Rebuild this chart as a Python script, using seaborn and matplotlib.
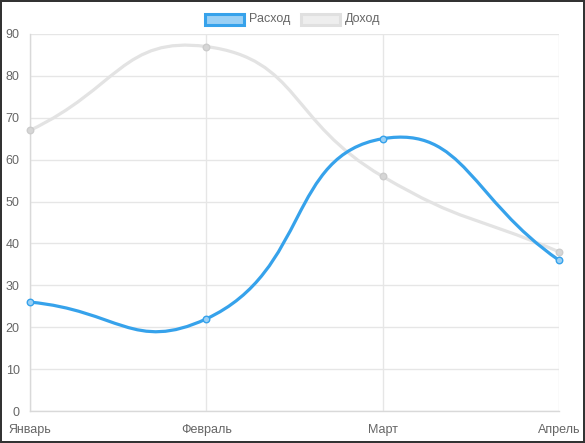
import numpy as np
import matplotlib
matplotlib.use("Agg")
import matplotlib.pyplot as plt
from matplotlib.path import Path
from matplotlib.patches import PathPatch, Rectangle
import seaborn as sns

# Данные графика
months = ["Январь", "Февраль", "Март", "Апрель"]
expense = [26, 22, 65, 36]   # Расход
income = [67, 87, 56, 38]    # Доход
y_ticks = [0, 10, 20, 30, 40, 50, 60, 70, 80, 90]

sns.set_style("white")
plt.rcParams['font.family'] = ['Liberation Sans', 'DejaVu Sans']

W, H = 585, 443
fig = plt.figure(figsize=(W / 100, H / 100), dpi=100)
fig.patch.set_edgecolor("#333333")
fig.patch.set_linewidth(1.5)

# область графика в пикселях
left, right, top, bottom = 30, 559, 34, 411
ax = fig.add_axes([left / W, (H - bottom) / H, (right - left) / W, (bottom - top) / H])
ax.set_xlim(0, len(months) - 1)
ax.set_ylim(0, 90)

grid_c = "#e6e6e6"
ax.set_xticks(range(len(months)))
ax.set_xticklabels(months)
ax.set_yticks(y_ticks)
ax.grid(True, color=grid_c, linewidth=1)
ax.tick_params(axis="both", colors=grid_c, labelcolor="#666666", labelsize=9,
               length=6, width=1)
ax.tick_params(axis="y", pad=1.5)
ax.tick_params(axis="x", pad=3)
for s in ["top", "right"]:
    ax.spines[s].set_visible(False)
for s in ["left", "bottom"]:
    ax.spines[s].set_color("#d9d9d9")
    ax.spines[s].set_linewidth(1)


def bezier_path(xs, ys, tension=0.5):
    # контрольные точки как в Chart.js (в пикселях)
    pts = ax.transData.transform(np.column_stack([xs, ys]))
    n = len(pts)
    cps = []
    for i in range(n):
        prev = pts[i - 1] if i > 0 else pts[i]
        cur = pts[i]
        nxt = pts[i + 1] if i < n - 1 else pts[i]
        d01 = np.hypot(*(cur - prev))
        d12 = np.hypot(*(nxt - cur))
        tot = d01 + d12
        s01 = d01 / tot if tot else 0
        s12 = d12 / tot if tot else 0
        fa, fb = tension * s01, tension * s12
        cps.append((cur - fa * (nxt - prev), cur + fb * (nxt - prev)))
    verts = [pts[0]]
    codes = [Path.MOVETO]
    for i in range(n - 1):
        verts += [cps[i][1], cps[i + 1][0], pts[i + 1]]
        codes += [Path.CURVE4] * 3
    inv = ax.transData.inverted()
    return Path(inv.transform(np.array(verts)), codes)


blue = "#36a2eb"
grey_line = "#e3e3e3"

# Доход (снизу)
ax.add_patch(PathPatch(bezier_path(range(4), income), fill=False,
                       edgecolor=grey_line, linewidth=2.3, zorder=3, capstyle="round"))
sns.scatterplot(x=list(range(4)), y=income, ax=ax, s=22, color="#d6d6d6",
                edgecolor="#cccccc", linewidth=1, zorder=4, clip_on=False)

# Расход (сверху)
ax.add_patch(PathPatch(bezier_path(range(4), expense), fill=False,
                       edgecolor=blue, linewidth=2.3, zorder=5, capstyle="round"))
sns.scatterplot(x=list(range(4)), y=expense, ax=ax, s=22, color="#9ad0f5",
                edgecolor=blue, linewidth=1, zorder=6, clip_on=False)

# легенда
def px_rect(x, y, w, h, fc, ec):
    fig.patches.append(Rectangle((x / W, 1 - (y + h) / H), w / W, h / H,
                                 transform=fig.transFigure, facecolor=fc,
                                 edgecolor=ec, linewidth=2.2))

px_rect(204.5, 13.5, 39, 11, "#9ad0f5", blue)
fig.text(249 / W, 1 - 19 / H, "Расход", fontsize=9, color="#666666", va="center")
px_rect(300.5, 13.5, 39, 11, "#eeeeee", "#e0e0e0")
fig.text(345 / W, 1 - 19 / H, "Доход", fontsize=9, color="#666666", va="center")

fig.savefig("out.png", dpi=100)
